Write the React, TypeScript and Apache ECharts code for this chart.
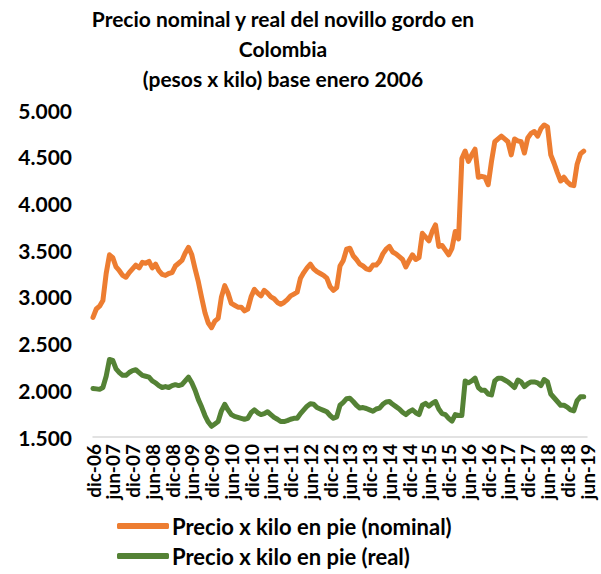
import React, { useEffect, useRef } from "react";
import * as echarts from "echarts";

const MONTHS = ["ene", "feb", "mar", "abr", "may", "jun", "jul", "ago", "sep", "oct", "nov", "dic"];
const START_YEAR = 2006;
const START_MONTH = 11; // dic
const N_CATEGORIES = 151; // dic-06 .. jun-19

const categories: string[] = [];
for (let k = 0; k < N_CATEGORIES; k++) {
  const m = (START_MONTH + k) % 12;
  const y = START_YEAR + Math.floor((START_MONTH + k) / 12);
  categories.push(`${MONTHS[m]}-${String(y % 100).padStart(2, "0")}`);
}

const nominal = [
  2780, 2870, 2900, 2960, 3250, 3450, 3420, 3320, 3280, 3230,
  3210, 3260, 3300, 3340, 3310, 3370, 3360, 3380, 3310, 3350,
  3280, 3240, 3230, 3250, 3260, 3330, 3360, 3390, 3470, 3530,
  3450, 3300, 3160, 2990, 2830, 2720, 2670, 2740, 2770, 3000,
  3120, 3040, 2930, 2910, 2890, 2890, 2850, 2870, 3000, 3080,
  3040, 3010, 3070, 3040, 3000, 2980, 2940, 2920, 2940, 2970,
  3010, 3030, 3050, 3200, 3260, 3310, 3350, 3300, 3270, 3250,
  3230, 3200, 3110, 3070, 3100, 3330, 3390, 3510, 3520, 3440,
  3400, 3350, 3330, 3300, 3290, 3340, 3340, 3380, 3460, 3510,
  3540, 3480, 3460, 3430, 3400, 3320, 3390, 3450, 3400, 3420,
  3680, 3640, 3600, 3700, 3770, 3540, 3550, 3500, 3450, 3520,
  3700, 3620, 4480, 4560, 4450, 4520, 4580, 4280, 4290, 4280,
  4200, 4450, 4660, 4690, 4720, 4690, 4660, 4520, 4690, 4670,
  4660, 4540, 4700, 4750, 4770, 4720, 4800, 4840, 4820, 4520,
  4430, 4330, 4240, 4280, 4230, 4200, 4190, 4420, 4530, 4560,
];

const real = [
  2020, 2015, 2010, 2030, 2150, 2330, 2320, 2230, 2190, 2160,
  2160, 2190, 2210, 2220, 2190, 2160, 2150, 2140, 2100, 2080,
  2050, 2030, 2040, 2030, 2050, 2060, 2050, 2060, 2100, 2140,
  2080, 2000, 1900, 1820, 1730, 1660, 1615, 1640, 1665, 1780,
  1850, 1790, 1740, 1720, 1710, 1700, 1690, 1700, 1760, 1790,
  1760, 1740, 1750, 1770, 1740, 1710, 1690, 1665, 1665, 1675,
  1690, 1700, 1700, 1750, 1790, 1830, 1855, 1850, 1815, 1800,
  1785, 1770, 1730, 1700, 1715, 1840, 1870, 1910, 1915, 1880,
  1840, 1810, 1815, 1805, 1790, 1775, 1800, 1810, 1850, 1875,
  1880, 1850, 1825, 1800, 1765, 1740, 1770, 1790, 1760, 1740,
  1840, 1860, 1830, 1860, 1880, 1800, 1750, 1740, 1700, 1670,
  1740, 1730, 1730, 2100, 2080, 2100, 2130, 2030, 2000, 2000,
  1960, 1950, 2100, 2130, 2130, 2110, 2090, 2060, 2030, 2110,
  2090, 2040, 2070, 2090, 2090, 2080, 2050, 2115, 2090, 1960,
  1920, 1880, 1840, 1840, 1820, 1790, 1780, 1890, 1930, 1930,
];

const TITLE = "Precio nominal y real del novillo gordo en\nColombia\n(pesos x kilo) base enero 2006";
const SERIES_NAMES = ["Precio x kilo en pie (nominal)", "Precio x kilo en pie (real)"];
const Y_MIN = 1500;
const Y_MAX = 5000;
const Y_INTERVAL = 500;
const LABEL_EVERY = 6;

const FONT = "Lato, 'Open Sans', sans-serif";

export default function App() {
  const ref = useRef<HTMLDivElement>(null);

  useEffect(() => {
    if (!ref.current) return;
    const chart = echarts.init(ref.current, null, { renderer: "svg" });
    chart.setOption({
      animation: false,
      backgroundColor: "#ffffff",
      title: {
        text: TITLE,
        left: 283,
        textAlign: "center",
        top: 3,
        padding: 0,
        textStyle: {
          fontFamily: FONT,
          fontWeight: "bold",
          fontSize: 21,
          lineHeight: 30,
          color: "#000",
        },
      },
      grid: { left: 93, right: 14, top: 110, bottom: 137, containLabel: false },
      legend: {
        orient: "vertical",
        left: 117,
        top: 515,
        padding: 0,
        itemWidth: 52,
        itemHeight: 6,
        itemGap: 8,
        icon: "roundRect",
        textStyle: { fontFamily: FONT, fontWeight: "bold", fontSize: 22, lineHeight: 22, color: "#000", padding: [0, 0, 0, -2] },
        data: SERIES_NAMES,
      },
      xAxis: {
        type: "category",
        data: categories,
        boundaryGap: false,
        axisLine: { lineStyle: { color: "#d9d9d9", width: 1.5 } },
        axisTick: { show: false },
        axisLabel: {
          interval: (index: number) => index % LABEL_EVERY === 0,
          rotate: 90,
          hideOverlap: false,
          fontFamily: FONT,
          fontWeight: "bold",
          fontSize: 19,
          lineHeight: 14,
          color: "#000",
          margin: 7,
        },
      },
      yAxis: {
        type: "value",
        min: Y_MIN,
        max: Y_MAX,
        interval: Y_INTERVAL,
        splitLine: { show: false },
        axisLine: { show: false },
        axisTick: { show: false },
        axisLabel: {
          fontFamily: FONT,
          fontWeight: "bold",
          fontSize: 21,
          color: "#000",
          margin: 21,
          formatter: (v: number) => {
            const s = String(Math.round(v));
            return s.replace(/\B(?=(\d{3})+(?!\d))/g, ".");
          },
        },
      },
      series: [
        {
          name: SERIES_NAMES[0],
          type: "line",
          data: nominal,
          symbol: "none",
          itemStyle: { color: "#ED7D31" },
          lineStyle: { color: "#ED7D31", width: 5, cap: "round", join: "round" },
        },
        {
          name: SERIES_NAMES[1],
          type: "line",
          data: real,
          symbol: "none",
          itemStyle: { color: "#548235" },
          lineStyle: { color: "#548235", width: 5, cap: "round", join: "round" },
        },
      ],
    });
    return () => chart.dispose();
  }, []);

  return (
    <div
      ref={ref}
      style={{ position: "fixed", left: 0, top: 0, width: 601, height: 574, background: "#fff" }}
    />
  );
}
